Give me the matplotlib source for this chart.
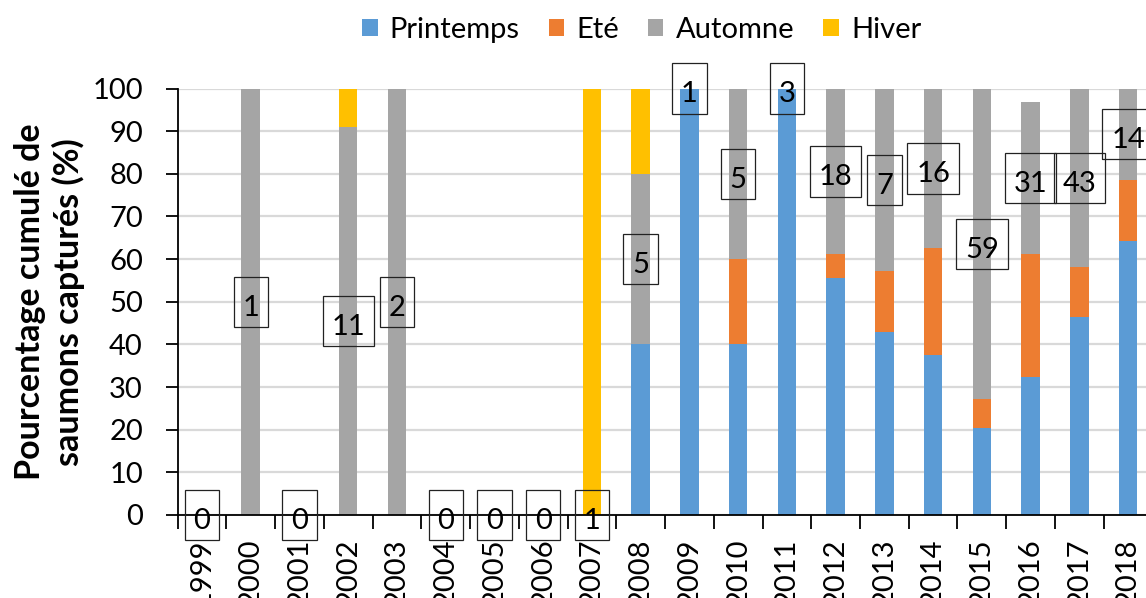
import numpy as np
import matplotlib
matplotlib.use("Agg")
import matplotlib.pyplot as plt
from matplotlib.path import Path
from matplotlib.ticker import FixedLocator, NullFormatter

plt.rcParams['font.family'] = ['Lato', 'DejaVu Sans']

# Captures per season and total captures for each year
years = [str(y) for y in range(1999, 2019)]
printemps = [0, 0, 0, 0, 0, 0, 0, 0, 0, 2, 1, 2, 3, 10, 3, 6, 12, 10, 20, 9]
ete = [0, 0, 0, 0, 0, 0, 0, 0, 0, 0, 0, 1, 0, 1, 1, 4, 4, 9, 5, 2]
automne = [0, 1, 0, 10, 2, 0, 0, 0, 0, 2, 0, 2, 0, 7, 3, 6, 43, 11, 18, 3]
hiver = [0, 0, 0, 1, 0, 0, 0, 0, 1, 1, 0, 0, 0, 0, 0, 0, 0, 0, 0, 0]
totals = [0, 1, 0, 11, 2, 0, 0, 0, 1, 5, 1, 5, 3, 18, 7, 16, 59, 31, 43, 14]

season_names = ['Printemps', 'Eté', 'Automne', 'Hiver']
season_colors = ['#5B9BD5', '#ED7D31', '#A5A5A5', '#FFC000']

tot = np.array(totals, dtype=float)
safe = np.where(tot > 0, tot, 1.0)
pct = [np.array(s, dtype=float) / safe * 100 for s in (printemps, ete, automne, hiver)]


def label_box(x0, y0, width, height, mutation_size):
    """Rectangular frame with separate horizontal / top / bottom padding."""
    px = 0.30 * mutation_size
    pt = 0.62 * mutation_size
    pb = 0.21 * mutation_size
    xa, xb = x0 - px, x0 + width + px
    ya, yb = y0 - pb, y0 + height + pt
    return Path([(xa, ya), (xb, ya), (xb, yb), (xa, yb), (xa, ya)],
                [Path.MOVETO, Path.LINETO, Path.LINETO, Path.LINETO,
                 Path.CLOSEPOLY])


FS = 21
fig = plt.figure(figsize=(11.46, 5.98), dpi=100)
ax = fig.add_axes([0.155, 0.1388, 0.8506, 0.7132])

x = np.arange(len(years))
bottom = np.zeros(len(years))
for name, col, vals in zip(season_names, season_colors, pct):
    ax.bar(x, vals, width=0.38, bottom=bottom, color=col, label=name,
           zorder=2, linewidth=0)
    bottom = bottom + vals

# Total count labels, centred on the autumn segment
label_y = pct[0] + pct[1] + pct[2] / 2
for xi, yi, n in zip(x, label_y, totals):
    ax.annotate(str(n), xy=(xi, yi), xytext=(0, -4.3),
                textcoords='offset points', ha='center', va='center',
                fontsize=FS, color='black', zorder=5, annotation_clip=False,
                bbox=dict(boxstyle=label_box, facecolor='none',
                          edgecolor='#222222', linewidth=0.9))

ax.set_xlim(-0.5, len(years) - 0.5)
ax.set_ylim(0, 100)
ax.set_yticks(np.arange(0, 101, 10))
ax.yaxis.grid(True, color='#D9D9D9', linewidth=1.6, zorder=0)
ax.set_axisbelow(True)

ax.set_xticks(x)
ax.set_xticklabels(years, rotation=90, fontsize=FS)
ax.xaxis.set_minor_locator(FixedLocator(np.arange(-0.5, len(years), 1.0)))
ax.xaxis.set_minor_formatter(NullFormatter())
ax.tick_params(axis='x', which='major', length=0, pad=17)
ax.tick_params(axis='x', which='minor', length=10, width=1.3, color='black')
ax.tick_params(axis='y', which='major', length=9, width=1.3, labelsize=FS,
               pad=16, color='black')

for side in ('top', 'right'):
    ax.spines[side].set_visible(False)
for side in ('left', 'bottom'):
    ax.spines[side].set_color('black')
    ax.spines[side].set_linewidth(1.3)

ax.set_ylabel('Pourcentage cumulé de\nsaumons capturés (%)', fontsize=24.5,
              fontweight='bold', linespacing=1.22)
ax.yaxis.set_label_coords(-0.095, 0.5)

fig.legend(loc='center', bbox_to_anchor=(0.56, 0.95), ncol=4, frameon=False,
           fontsize=FS, handlelength=0.52, handleheight=0.52,
           handletextpad=0.42, columnspacing=1.0)

fig.savefig('out.png', dpi=100)
